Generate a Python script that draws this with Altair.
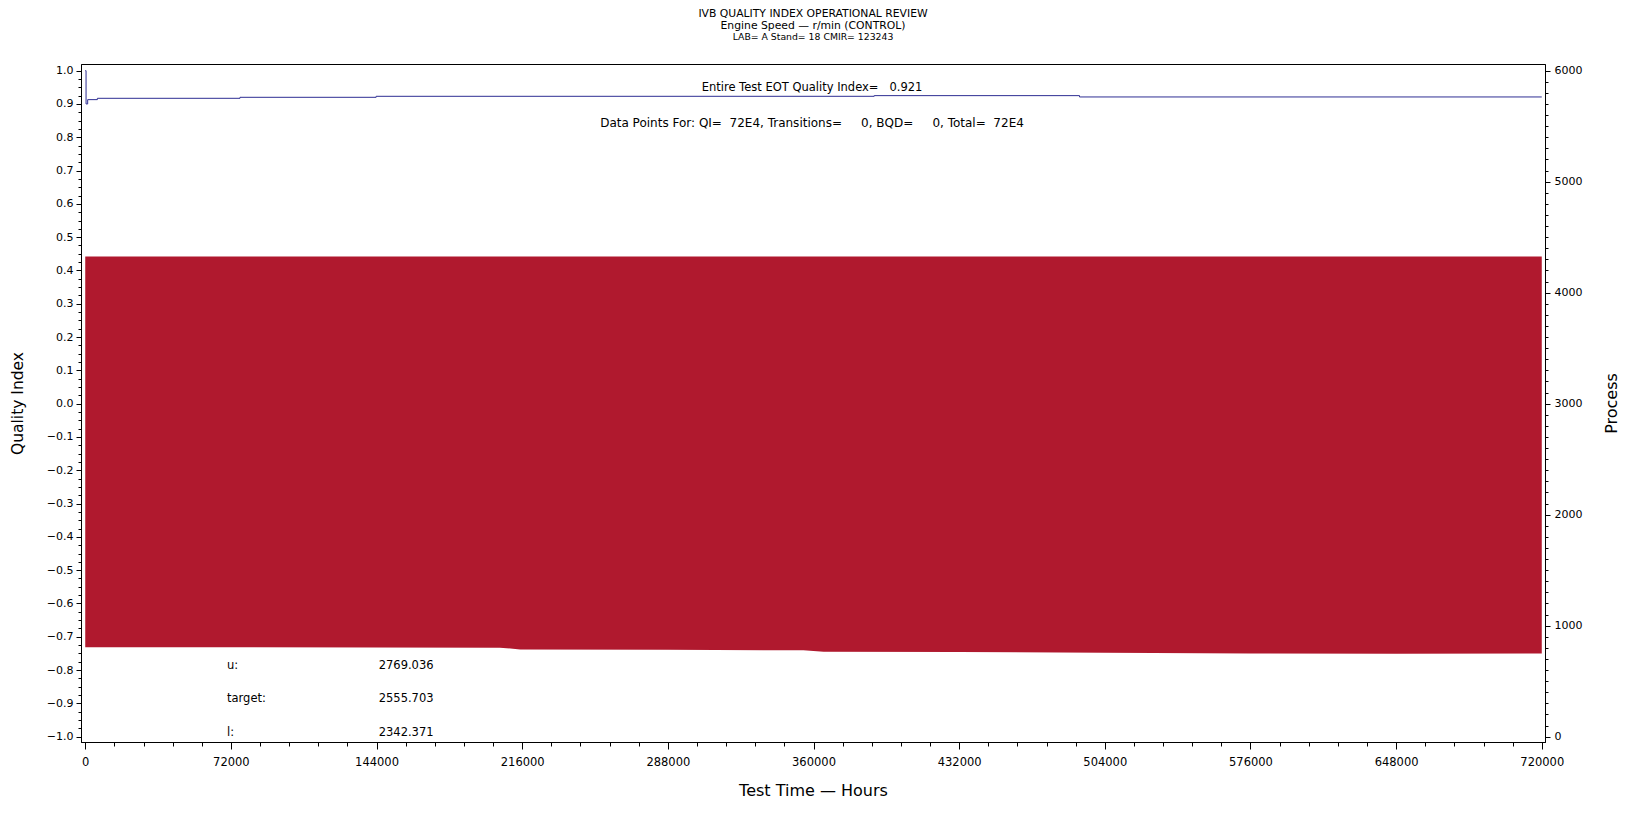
import altair as alt
import pandas as pd

FONT = "DejaVu Sans"

# ---- data ----
# Process (Engine Speed) envelope of the dense oscillation, right axis
band_time = [0, 72000, 144000, 205000, 215000, 288000, 355000, 365000, 432000, 504000, 576000, 648000, 720000]
band_low = [805, 806, 804, 802, 786, 782, 778, 765, 762, 757, 750, 746, 750]
band_high = [4326, 4326, 4326, 4326, 4326, 4326, 4326, 4326, 4326, 4326, 4326, 4326, 4326]

# Quality index (left axis), step line
qi_time = [0, 400, 1200, 6000, 76500, 143800, 390000, 491500, 720000]
qi_values = [1.0, 0.90, 0.913, 0.917, 0.920, 0.923, 0.925, 0.921, 0.921]

stat_labels = ["u:", "target:", "l:"]
stat_values = ["2769.036", "2555.703", "2342.371"]

title_lines = ["IVB QUALITY INDEX OPERATIONAL REVIEW",
               "Engine Speed \u2014 r/min (CONTROL)",
               "LAB= A Stand= 18 CMIR= 123243"]
eot_text = "Entire Test EOT Quality Index=\u00a0\u00a0\u00a00.921"
dp_text = ("Data Points For: QI=\u00a0\u00a072E4, Transitions=\u00a0\u00a0\u00a0\u00a0\u00a00, "
           "BQD=\u00a0\u00a0\u00a0\u00a0\u00a00, Total=\u00a0\u00a072E4")

band_df = pd.DataFrame({"time": band_time, "low": band_low, "high": band_high})
qi_df = pd.DataFrame({"time": qi_time, "qi": qi_values})
anno_df = pd.DataFrame({"k": [0]})

W, H = 1464, 678

x_ticks = [i * 14400 for i in range(51)]
qi_ticks = [round(-1 + i * 0.025, 4) for i in range(81)]
proc_ticks = [i * 100 for i in range(61)]

x_axis = alt.Axis(
    values=x_ticks,
    labelExpr="datum.value % 72000 === 0 ? format(datum.value, 'd') : ''",
    tickSize={"condition": {"test": "datum.value % 72000 === 0", "value": 7}, "value": 4},
    labelPadding=7, labelFontSize=11.5, labelOverlap=False, labelFlush=False,
    title="Test Time \u2014 Hours", titleFontSize=16, titleX=W / 2, titleY=48,
    titleBaseline="middle", titleAlign="center",
)
x_enc = alt.X("time:Q", scale=alt.Scale(domain=[-2100, 721600], nice=False, zero=False), axis=x_axis)

band = alt.Chart(band_df).mark_area(color="#B0192E", opacity=1).encode(
    x=x_enc,
    y=alt.Y("low:Q", scale=alt.Scale(domain=[-48, 6060], nice=False, zero=False),
            axis=alt.Axis(
                orient="right", values=proc_ticks,
                labelExpr="datum.value % 1000 === 0 ? format(datum.value, 'd') : ''",
                tickSize={"condition": {"test": "datum.value % 1000 === 0", "value": 5}, "value": 3},
                labelPadding=4, labelFontSize=11, labelOverlap=False, labelFlush=False,
                title="Process", titleFontSize=16, titleAngle=270, titleX=66, titleY=H / 2,
                titleBaseline="middle", titleAlign="center")),
    y2="high:Q",
)

line = alt.Chart(qi_df).mark_line(color="#2E2E93", strokeWidth=1, interpolate="step-after").encode(
    x=x_enc,
    y=alt.Y("qi:Q", scale=alt.Scale(domain=[-1.016, 1.02], nice=False, zero=False),
            axis=alt.Axis(
                orient="left", values=qi_ticks,
                labelExpr="abs(datum.value*10 - round(datum.value*10)) < 0.001 ? format(datum.value, '.1f') : ''",
                tickSize={"condition": {"test": "abs(datum.value*10 - round(datum.value*10)) < 0.001", "value": 5}, "value": 3},
                labelPadding=3, labelFontSize=11, labelOverlap=False, labelFlush=False,
                title="Quality Index", titleFontSize=15.5, titleAngle=270, titleX=-64, titleY=H / 2,
                titleBaseline="middle", titleAlign="center")),
)


def txt(s, x, y, size, align="center"):
    return alt.Chart(anno_df).mark_text(
        text=s, fontSize=size, align=align, baseline="middle", font=FONT, color="black"
    ).encode(x=alt.value(x), y=alt.value(y))


texts = [
    txt(title_lines[0], W / 2, -50, 10.8),
    txt(title_lines[1], W / 2, -38.5, 10.8),
    txt(title_lines[2], W / 2, -27.5, 9.3),
    txt(eot_text, 731, 23.5, 11.5),
    txt(dp_text, 731, 58.5, 12),
]
for i, (lab, val) in enumerate(zip(stat_labels, stat_values)):
    yy = [601.7, 635.0, 669.3][i]
    texts.append(txt(lab, 146, yy, 11.5, align="left"))
    texts.append(txt(val, 297.7, yy, 11.5, align="left"))

chart = alt.layer(band, line, *texts).resolve_scale(y="independent").properties(
    width=W, height=H,
    autosize=alt.AutoSizeParams(type="none"),
    padding={"left": 73, "top": 56, "right": 79, "bottom": 70},
    background="white",
).configure_view(stroke="black", strokeWidth=1).configure_axis(
    grid=False, domainColor="black", tickColor="black", labelColor="black",
    titleColor="black", labelFont=FONT, titleFont=FONT, titleFontWeight="normal",
)

chart.save("out.html", embed_options={"renderer": "svg", "actions": False})
